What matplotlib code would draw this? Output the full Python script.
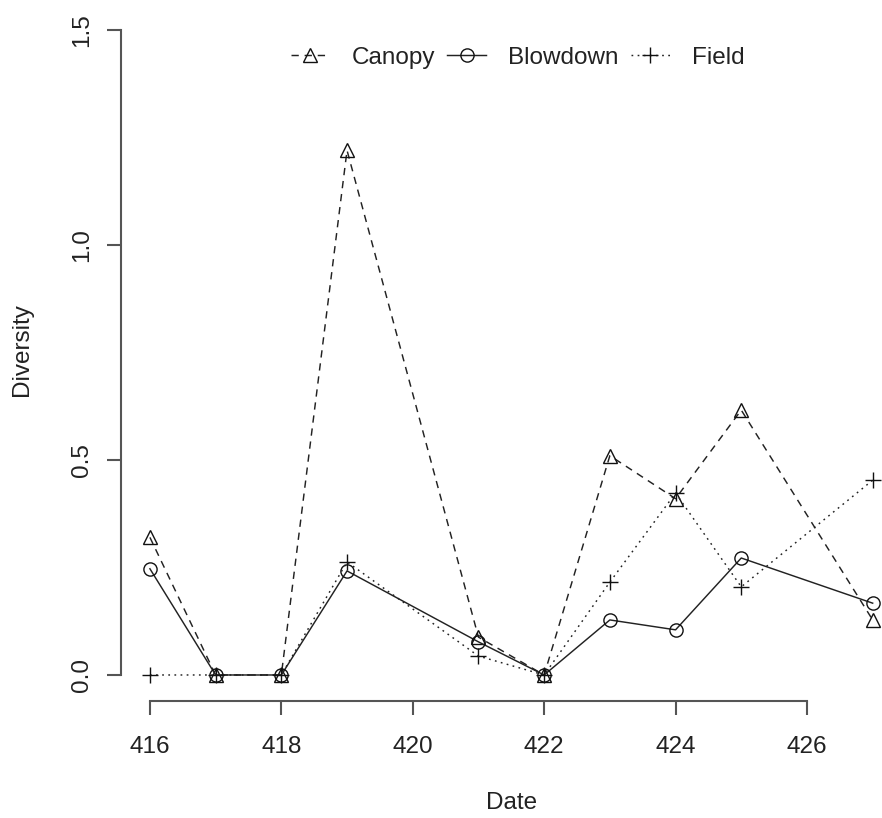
import matplotlib.pyplot as plt

plt.rcParams['font.family'] = ['Liberation Sans', 'DejaVu Sans']

dates = [416, 417, 418, 419, 421, 422, 423, 424, 425, 427]
canopy = [0.32, 0.0, 0.0, 1.22, 0.088, 0.0, 0.51, 0.41, 0.616, 0.128]
blowdown = [0.247, 0.0, 0.0, 0.242, 0.077, 0.0, 0.128, 0.105, 0.272, 0.167]
field = [0.0, 0.0, 0.0, 0.263, 0.044, 0.0, 0.216, 0.423, 0.205, 0.453]

x_ticks = [416, 418, 420, 422, 424, 426]
y_ticks = [0.0, 0.5, 1.0, 1.5]
y_labels = ['0.0', '0.5', '1.0', '1.5']

fs = 17.5
lw = 1.05
axcol = '#555555'
txtcol = '#222222'

fig = plt.figure(figsize=(8.82, 8.18), dpi=100)
ax = fig.add_axes([0.1372, 0.1433, 0.885, 0.8516])

ax.plot(dates, canopy, color='#222222', lw=lw, ls=(0, (5, 4)), marker='^',
        ms=10.5, mfc='none', mec='#111111', mew=1.0, label='Canopy')
ax.plot(dates, blowdown, color='#222222', lw=lw, ls='-', marker='o',
        ms=9.5, mfc='none', mec='#111111', mew=1.0, label='Blowdown')
ax.plot(dates, field, color='#222222', lw=lw, ls=(0, (1.2, 3)), marker='+',
        ms=11.5, mec='#111111', mew=1.0, label='Field')

ax.set_xlim(415.56, 427.44)
ax.set_ylim(-0.06, 1.56)

for s in ['top', 'right']:
    ax.spines[s].set_visible(False)
ax.spines['left'].set_bounds(0, 1.5)
ax.spines['bottom'].set_bounds(416, 426)
for s in ['left', 'bottom']:
    ax.spines[s].set_color(axcol)
    ax.spines[s].set_linewidth(1.5)

ax.set_xticks(x_ticks)
ax.set_xticklabels([str(t) for t in x_ticks])
ax.set_yticks(y_ticks)
ax.set_yticklabels(y_labels, rotation=90, va='center')
ax.tick_params(axis='both', length=10, width=1.5, color=axcol,
               labelsize=fs, labelcolor=txtcol)
ax.tick_params(axis='x', pad=15)
ax.tick_params(axis='y', pad=10)

ax.set_xlabel('Date', fontsize=fs, va='center', color=txtcol)
ax.xaxis.set_label_coords(0.5, -0.1467)
ax.set_ylabel('Diversity', fontsize=fs, va='center', color=txtcol)
ax.yaxis.set_label_coords(-0.1268, 0.5036)

ax.legend(loc='center', bbox_to_anchor=(0.508, 0.9228), ncol=3, frameon=False,
          fontsize=fs, handlelength=1.6, handletextpad=0.9, columnspacing=0.5,
          numpoints=1, borderpad=0, borderaxespad=0, labelcolor=txtcol)

plt.savefig('out.png', dpi=100)
